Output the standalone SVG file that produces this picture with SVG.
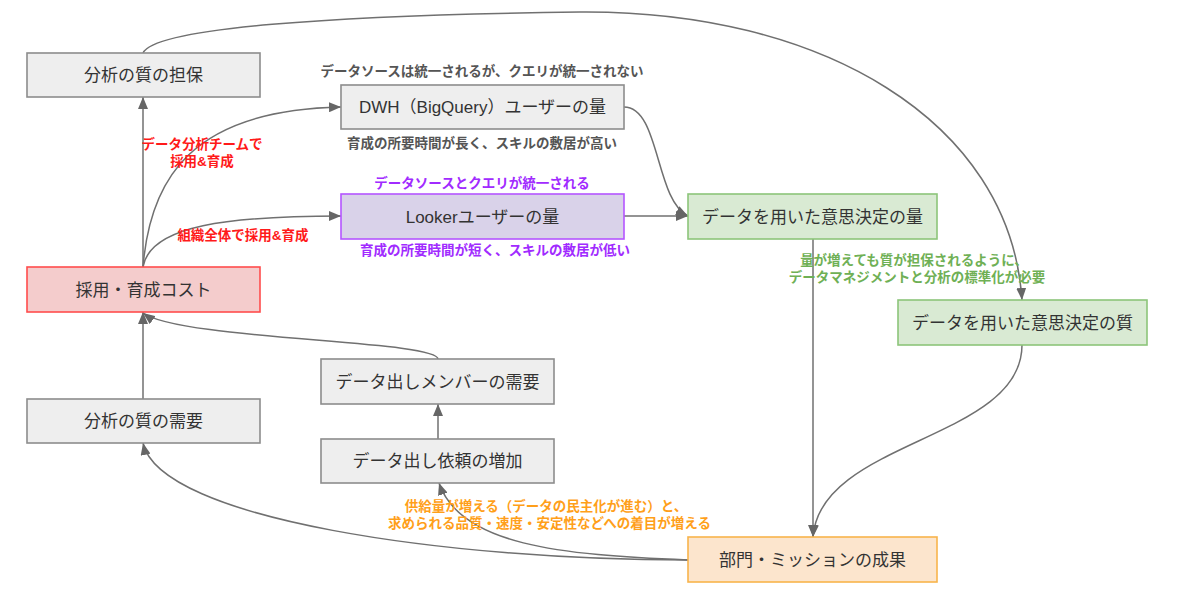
<svg xmlns="http://www.w3.org/2000/svg" width="1200" height="598" viewBox="0 0 1200 598">
<style>
.n{stroke-width:1.6}
.gray{fill:#eeeeee;stroke:#8c8c8c}
.red{fill:#f4cccc;stroke:#ff4d4d}
.pur{fill:#d9d2e9;stroke:#b455ff}
.grn{fill:#d9ead3;stroke:#8cc57a}
.org{fill:#fce5cd;stroke:#f8b44c}
.t{font-family:"Liberation Sans","Noto Sans CJK JP",sans-serif;font-size:17px;fill:#333333;text-anchor:middle}
.l{font-family:"Liberation Sans","Noto Sans CJK JP",sans-serif;font-size:13.5px;font-weight:bold;text-anchor:middle}
.lg{fill:#555555}.lr{fill:#ff1a1a}.lp{fill:#a12bff}.lgr{fill:#6fb055}.lo{fill:#ff9f1a}
.e{fill:none;stroke:#707070;stroke-width:1.5}
</style>
<defs>
<marker id="arr" viewBox="0 0 12 10" markerWidth="12" markerHeight="10" refX="12" refY="5" orient="auto" markerUnits="userSpaceOnUse">
<path d="M0,0 L12,5 L0,10 z" fill="#666666"/>
</marker>
</defs>
<rect width="1200" height="598" fill="#ffffff"/>
<g id="connectors">
<path class="e" d="M143,53 C155,28 330,15 580,12 C820,10 1010,120 1022,300" marker-end="url(#arr)"/>
<path class="e" d="M143,267 L143,97" marker-end="url(#arr)"/>
<path class="e" d="M143,267 C150,180 190,110 341,107" marker-end="url(#arr)"/>
<path class="e" d="M143,267 C150,225 230,216 341,216" marker-end="url(#arr)"/>
<path class="e" d="M624,107 C660,107 655,200 688,216" marker-end="url(#arr)"/>
<path class="e" d="M624,216 L688,216" marker-end="url(#arr)"/>
<path class="e" d="M813,239 L813,537" marker-end="url(#arr)"/>
<path class="e" d="M1022,345 C1022,440 820,440 813,537" marker-end="url(#arr)"/>
<path class="e" d="M688,560 C450,560 160,520 143,443" marker-end="url(#arr)"/>
<path class="e" d="M688,560 C560,555 460,545 439,483" marker-end="url(#arr)"/>
<path class="e" d="M438,439 L438,404" marker-end="url(#arr)"/>
<path class="e" d="M438,359 C438,340 180,340 143,313" marker-end="url(#arr)"/>
<path class="e" d="M143,399 L143,312" marker-end="url(#arr)"/>
</g>
<g id="labels">
<text class="l lr" x="202" y="149">データ分析チームで</text>
<text class="l lr" x="202" y="165.5">採用&amp;育成</text>
<text class="l lr" x="243" y="240">組織全体で採用&amp;育成</text>
<text class="l lg" x="482" y="76">データソースは統一されるが、クエリが統一されない</text>
<text class="l lg" x="482" y="148">育成の所要時間が長く、スキルの敷居が高い</text>
<text class="l lp" x="482" y="188">データソースとクエリが統一される</text>
<text class="l lp" x="495" y="255">育成の所要時間が短く、スキルの敷居が低い</text>
<text class="l lgr" x="914" y="265">量が増えても質が担保されるように、</text>
<text class="l lgr" x="917" y="282">データマネジメントと分析の標準化が必要</text>
<text class="l lo" x="546" y="511">供給量が増える（データの民主化が進む）と、</text>
<text class="l lo" x="549.5" y="528">求められる品質・速度・安定性などへの着目が増える</text>
</g>
<g id="node-tanpo"><rect class="n gray" x="27" y="53" width="233" height="44"/><text class="t" x="143.5" y="81">分析の質の担保</text></g>
<g id="node-dwh"><rect class="n gray" x="341" y="85" width="283" height="44"/><text class="t" x="482.5" y="113">DWH（BigQuery）ユーザーの量</text></g>
<g id="node-looker"><rect class="n pur" x="341" y="194" width="283" height="45"/><text class="t" x="482.5" y="222.5">Lookerユーザーの量</text></g>
<g id="node-ryo"><rect class="n grn" x="688" y="194" width="249" height="45"/><text class="t" x="812.5" y="222.5">データを用いた意思決定の量</text></g>
<g id="node-shitsu"><rect class="n grn" x="898" y="300" width="249" height="45"/><text class="t" x="1022.5" y="328.5">データを用いた意思決定の質</text></g>
<g id="node-cost"><rect class="n red" x="27" y="267" width="233" height="45"/><text class="t" x="143.5" y="295.5">採用・育成コスト</text></g>
<g id="node-member"><rect class="n gray" x="321" y="359" width="233" height="45"/><text class="t" x="437.5" y="387.5">データ出しメンバーの需要</text></g>
<g id="node-juyo"><rect class="n gray" x="27" y="399" width="233" height="44"/><text class="t" x="143.5" y="427">分析の質の需要</text></g>
<g id="node-irai"><rect class="n gray" x="321" y="439" width="233" height="44"/><text class="t" x="437.5" y="467">データ出し依頼の増加</text></g>
<g id="node-seika"><rect class="n org" x="688" y="537" width="249" height="45"/><text class="t" x="812.5" y="565.5">部門・ミッションの成果</text></g>
</svg>
